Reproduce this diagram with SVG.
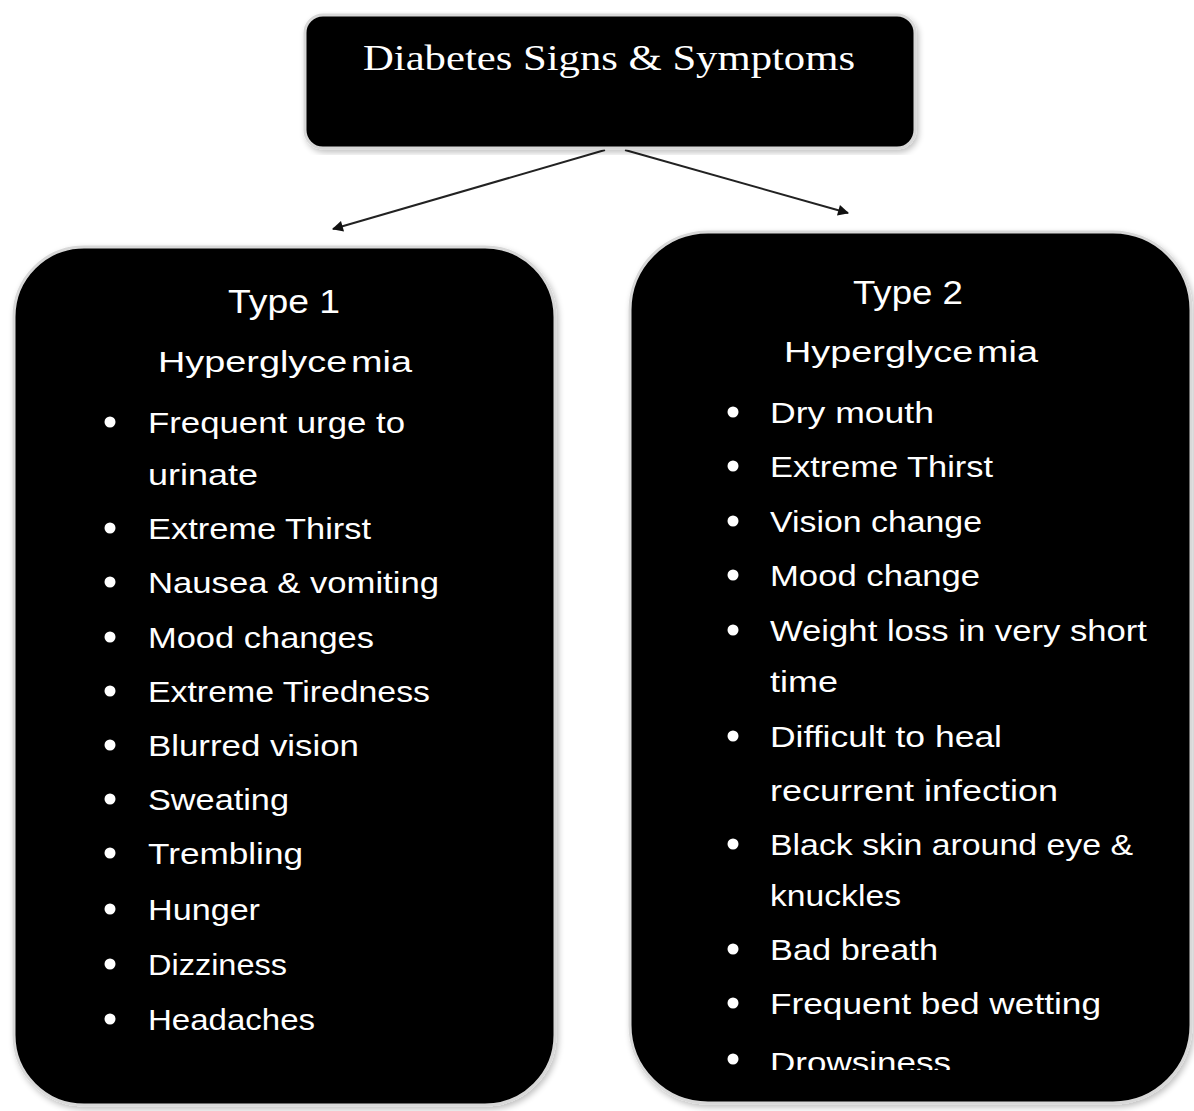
<svg xmlns="http://www.w3.org/2000/svg" width="1194" height="1111" viewBox="0 0 1194 1111">
<defs>
<style>
.box{fill:#000;stroke:#d8d8d8;stroke-width:3}
.t{font-family:"Liberation Sans",Arial,sans-serif;fill:#fff;font-size:30px}
.h{font-family:"Liberation Sans",Arial,sans-serif;fill:#fff;font-size:34px;text-anchor:middle}
.title{font-family:"Liberation Serif","Times New Roman",serif;fill:#fff;font-size:36px}
.b{fill:#fff}
.c{stroke:#222;stroke-width:2;fill:none;marker-end:url(#ah)}
</style>
<marker id="ah" viewBox="0 0 10 10" refX="9" refY="5" markerWidth="13" markerHeight="11" markerUnits="userSpaceOnUse" orient="auto">
<path d="M0,0 L10,5 L0,10 z" fill="#111"/>
</marker>
<filter id="sh" x="-5%" y="-5%" width="110%" height="110%">
<feGaussianBlur in="SourceAlpha" stdDeviation="3"/>
<feOffset dx="2" dy="3"/>
<feComponentTransfer><feFuncA type="linear" slope="0.25"/></feComponentTransfer>
<feMerge><feMergeNode/><feMergeNode in="SourceGraphic"/></feMerge>
</filter>
<clipPath id="rclip"><rect x="630" y="232" width="562" height="838"/></clipPath>
</defs>
<rect width="1194" height="1111" fill="#fff"/>

<g id="connectors">
<line class="c" x1="605" y1="150" x2="333" y2="229"/>
<line class="c" x1="625" y1="150" x2="848" y2="213"/>
</g>

<g id="root">
<rect class="box" x="305" y="15" width="610" height="133" rx="18" filter="url(#sh)"/>
<text class="title" x="363" y="70" textLength="492" lengthAdjust="spacingAndGlyphs">Diabetes Signs &amp; Symptoms</text>
</g>

<g id="type1">
<rect class="box" x="14" y="247" width="541" height="858" rx="70" filter="url(#sh)"/>
<text class="h" x="284" y="313" textLength="112" lengthAdjust="spacingAndGlyphs">Type 1</text>
<text class="t" x="158" y="372" textLength="254" lengthAdjust="spacingAndGlyphs"><tspan>Hyperglyce</tspan><tspan dx="3">mia</tspan></text>
<g class="b">
<circle cx="110" cy="422" r="5.5"/><circle cx="110" cy="528" r="5.5"/><circle cx="110" cy="582" r="5.5"/><circle cx="110" cy="637" r="5.5"/><circle cx="110" cy="691" r="5.5"/><circle cx="110" cy="745" r="5.5"/><circle cx="110" cy="799" r="5.5"/><circle cx="110" cy="853" r="5.5"/><circle cx="110" cy="909" r="5.5"/><circle cx="110" cy="964" r="5.5"/><circle cx="110" cy="1019" r="5.5"/>
</g>
<text class="t" x="148" y="433" textLength="257" lengthAdjust="spacingAndGlyphs">Frequent urge to</text>
<text class="t" x="148" y="485" textLength="110" lengthAdjust="spacingAndGlyphs">urinate</text>
<text class="t" x="148" y="539" textLength="223" lengthAdjust="spacingAndGlyphs">Extreme Thirst</text>
<text class="t" x="148" y="593" textLength="291" lengthAdjust="spacingAndGlyphs">Nausea &amp; vomiting</text>
<text class="t" x="148" y="648" textLength="226" lengthAdjust="spacingAndGlyphs">Mood changes</text>
<text class="t" x="148" y="702" textLength="282" lengthAdjust="spacingAndGlyphs">Extreme Tiredness</text>
<text class="t" x="148" y="756" textLength="211" lengthAdjust="spacingAndGlyphs">Blurred vision</text>
<text class="t" x="148" y="810" textLength="141" lengthAdjust="spacingAndGlyphs">Sweating</text>
<text class="t" x="148" y="864" textLength="155" lengthAdjust="spacingAndGlyphs">Trembling</text>
<text class="t" x="148" y="920" textLength="112" lengthAdjust="spacingAndGlyphs">Hunger</text>
<text class="t" x="148" y="975" textLength="139" lengthAdjust="spacingAndGlyphs">Dizziness</text>
<text class="t" x="148" y="1030" textLength="167" lengthAdjust="spacingAndGlyphs">Headaches</text>
</g>

<g id="type2">
<rect class="box" x="630" y="232" width="561" height="871" rx="78" filter="url(#sh)"/>
<text class="h" x="908" y="304" textLength="110" lengthAdjust="spacingAndGlyphs">Type 2</text>
<text class="t" x="784" y="362" textLength="254" lengthAdjust="spacingAndGlyphs"><tspan>Hyperglyce</tspan><tspan dx="3">mia</tspan></text>
<g class="b">
<circle cx="733" cy="412" r="5.5"/><circle cx="733" cy="466" r="5.5"/><circle cx="733" cy="521" r="5.5"/><circle cx="733" cy="575" r="5.5"/><circle cx="733" cy="630" r="5.5"/><circle cx="733" cy="736" r="5.5"/><circle cx="733" cy="844" r="5.5"/><circle cx="733" cy="949" r="5.5"/><circle cx="733" cy="1003" r="5.5"/><circle cx="733" cy="1059" r="5.5"/>
</g>
<text class="t" x="770" y="423" textLength="164" lengthAdjust="spacingAndGlyphs">Dry mouth</text>
<text class="t" x="770" y="477" textLength="223" lengthAdjust="spacingAndGlyphs">Extreme Thirst</text>
<text class="t" x="770" y="532" textLength="212" lengthAdjust="spacingAndGlyphs">Vision change</text>
<text class="t" x="770" y="586" textLength="210" lengthAdjust="spacingAndGlyphs">Mood change</text>
<text class="t" x="770" y="641" textLength="377" lengthAdjust="spacingAndGlyphs">Weight loss in very short</text>
<text class="t" x="770" y="692" textLength="68" lengthAdjust="spacingAndGlyphs">time</text>
<text class="t" x="770" y="747" textLength="232" lengthAdjust="spacingAndGlyphs">Difficult to heal</text>
<text class="t" x="770" y="801" textLength="288" lengthAdjust="spacingAndGlyphs">recurrent infection</text>
<text class="t" x="770" y="855" textLength="363" lengthAdjust="spacingAndGlyphs">Black skin around eye &amp;</text>
<text class="t" x="770" y="906" textLength="131" lengthAdjust="spacingAndGlyphs">knuckles</text>
<text class="t" x="770" y="960" textLength="168" lengthAdjust="spacingAndGlyphs">Bad breath</text>
<text class="t" x="770" y="1014" textLength="331" lengthAdjust="spacingAndGlyphs">Frequent bed wetting</text>
<text class="t" x="770" y="1073" textLength="181" lengthAdjust="spacingAndGlyphs" clip-path="url(#rclip)">Drowsiness</text>
</g>
</svg>
